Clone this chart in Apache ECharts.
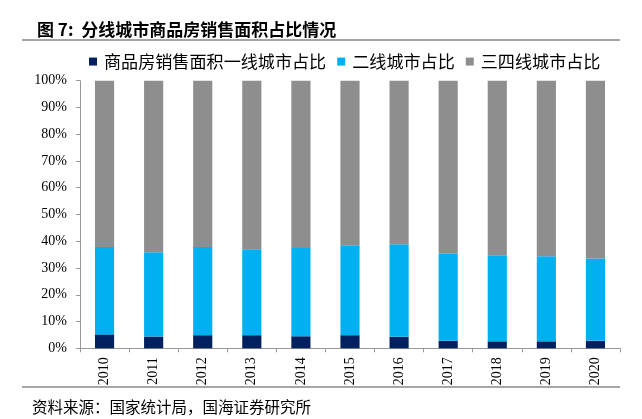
<!DOCTYPE html>
<html><head><meta charset="utf-8">
<script src="https://cdn.jsdelivr.net/npm/echarts@6/dist/echarts.min.js"></script>
<style>html,body{margin:0;padding:0;background:#fff;}#c{width:642px;height:419px;}</style>
</head><body><div id="c"></div>
<script>
var categories = ['2010','2011','2012','2013','2014','2015','2016','2017','2018','2019','2020'];
var tier1 = [5.2,4.4,4.9,4.9,4.5,4.9,4.3,2.8,2.6,2.6,2.8];
var tier2 = [32.7,31.5,33.0,32.1,33.0,33.6,34.6,32.5,32.2,31.8,30.8];
var tier34 = [62.1,64.1,62.1,63.0,62.5,61.5,61.1,64.7,65.2,65.6,66.4];
var yTicks = [0,10,20,30,40,50,60,70,80,90,100];
var seriesNames = ['商品房销售面积一线城市占比','二线城市占比','三四线城市占比'];

var chart = echarts.init(document.getElementById('c'));
var serif = 'Liberation Serif';
var cjk = 'Noto Sans CJK SC';
chart.setOption({
  animation: false,
  title: {
    text: '图 7:  分线城市商品房销售面积占比情况',
    left: 32, top: 16,
    textStyle: {fontFamily: cjk, fontSize: 17, fontWeight: 'bold', color: '#000'}
  },
  legend: {
    data: seriesNames,
    left: 84, top: 48,
    itemWidth: 8, itemHeight: 8, itemGap: 11,
    icon: 'rect',
    textStyle: {fontFamily: cjk, fontSize: 17.1, color: '#000', padding: [0,0,0,2]}
  },
  graphic: [
    {type: 'line', shape: {x1: 22, y1: 40, x2: 620, y2: 40}, style: {stroke: '#888', lineWidth: 1.5}},
    {type: 'line', shape: {x1: 22, y1: 387, x2: 620, y2: 387}, style: {stroke: '#888', lineWidth: 1.5}},
    {type: 'text', left: 32, top: 399, style: {text: '资料来源：国家统计局，国海证券研究所', fontFamily: cjk, fontSize: 15.5, fill: '#000'}}
  ],
  grid: {left: 80, right: 22, top: 80.7, bottom: 70.7},
  xAxis: {
    type: 'category', data: categories,
    axisLine: {lineStyle: {color: '#999'}},
    axisTick: {show: true, inside: false, length: 4, lineStyle: {color: '#999'}},
    axisLabel: {rotate: 90, fontFamily: serif, fontSize: 14, color: '#000', margin: 9}
  },
  yAxis: {
    type: 'value', min: 0, max: 100, interval: 10,
    axisLine: {show: true, lineStyle: {color: '#999'}},
    axisTick: {show: true, length: 4, lineStyle: {color: '#999'}},
    splitLine: {show: false},
    axisLabel: {fontFamily: serif, fontSize: 14, color: '#000', margin: 13,
      formatter: function(v){ return yTicks.indexOf(v) >= 0 ? v + '%' : ''; }}
  },
  series: [
    {name: seriesNames[0], type: 'bar', stack: 's', data: tier1, barWidth: '39%', itemStyle: {color: '#002060'}},
    {name: seriesNames[1], type: 'bar', stack: 's', data: tier2, barWidth: '39%', itemStyle: {color: '#00b0f0'}},
    {name: seriesNames[2], type: 'bar', stack: 's', data: tier34, barWidth: '39%', itemStyle: {color: '#8e8e8e'}}
  ]
});
</script></body></html>
